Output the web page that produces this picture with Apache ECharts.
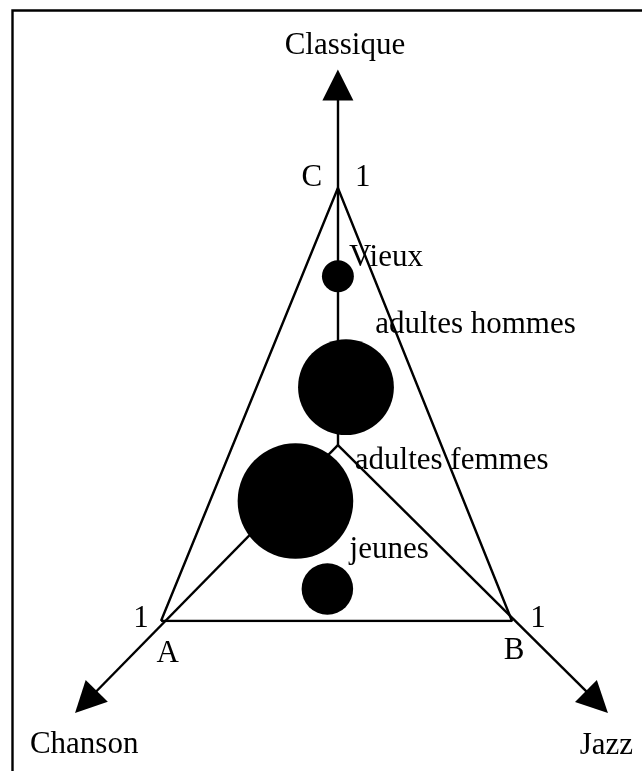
<!DOCTYPE html>
<html>
<head>
<meta charset="utf-8">
<script src="https://cdn.jsdelivr.net/npm/echarts@6/dist/echarts.min.js"></script>
<style>
  html, body { margin: 0; padding: 0; background: #fff; }
  #main { width: 642px; height: 771px; }
</style>
</head>
<body>
<div id="main"></div>
<script>
// triangle A (Chanson) - B (Jazz) - C (Classique), units: base A->B = 100, height to C = 100
const vertexNames = ['A', 'B', 'C'];
const vertexX = [0, 100, 50.4];
const vertexY = [0, 0, 100];
const centerPoint = [50.4, 40.6];

// axes leaving the centre through each vertex
const axisNames = ['Classique', 'Chanson', 'Jazz'];
const axisEndX = [50.4, -21.4, 124.2];
const axisEndY = [123.8, -18.7, -18.7];
const axisTitleX = [52.4, -21.9, 126.9];
const axisTitleY = [132.8, -28.6, -28.9];

// groups
const groups = ['Vieux', 'adultes hommes', 'adultes femmes', 'jeunes'];
const groupX = [50.4, 52.7, 38.3, 47.4];
const groupY = [79.6, 54.0, 27.7, 7.4];
const groupWeight = [10, 90, 131, 26];
const groupLabelX = [64.1, 89.6, 82.8, 65.0];
const groupLabelY = [83.8, 68.4, 36.9, 16.4];

// vertex letters and the "1" marks
const markNames = ['C', '1', '1', 'A', '1', 'B'];
const markX = [43.0, 57.5, -5.7, 1.9, 107.4, 100.6];
const markY = [102.3, 102.3, 0.5, -7.6, 0.5, -6.9];

const font = '"Liberation Serif", "Times New Roman", serif';

const textData = [];
axisNames.forEach((n, i) => textData.push({ name: n, value: [axisTitleX[i], axisTitleY[i]] }));
groups.forEach((n, i) => textData.push({ name: n, value: [groupLabelX[i], groupLabelY[i]] }));
markNames.forEach((n, i) => textData.push({ name: n, value: [markX[i], markY[i]] }));

const triangle = [0, 1, 2, 0].map(i => [vertexX[i], vertexY[i]]);

const option = {
  animation: false,
  backgroundColor: '#fff',
  graphic: [{
    type: 'rect',
    left: 10, top: 8,
    shape: { width: 700, height: 800 },
    style: { fill: 'none', stroke: '#000', lineWidth: 2.4 },
    silent: true
  }],
  grid: { left: 161, top: 188, width: 351, height: 433 },
  xAxis: { type: 'value', min: 0, max: 100, show: false },
  yAxis: { type: 'value', min: 0, max: 100, show: false },
  series: [
    {
      type: 'line',
      data: triangle,
      symbol: 'none',
      lineStyle: { color: '#000', width: 2.4 },
      silent: true,
      z: 2
    },
    {
      type: 'lines',
      coordinateSystem: 'cartesian2d',
      clip: false,
      silent: true,
      symbol: ['none', 'triangle'],
      symbolSize: [23, 31],
      lineStyle: { color: '#000', width: 2.4, opacity: 1 },
      itemStyle: { color: '#000' },
      data: axisNames.map((n, i) => ({
        coords: [centerPoint, [axisEndX[i], axisEndY[i]]]
      })),
      z: 2
    },
    {
      type: 'scatter',
      clip: false,
      silent: true,
      data: groups.map((n, i) => ({ name: n, value: [groupX[i], groupY[i], groupWeight[i]] })),
      symbolSize: v => 10.1 * Math.sqrt(v[2]),
      itemStyle: { color: '#000', opacity: 1 },
      z: 3
    },
    {
      type: 'scatter',
      clip: false,
      silent: true,
      data: textData,
      symbolSize: 0,
      label: {
        show: true,
        position: 'inside',
        formatter: '{b}',
        color: '#000',
        opacity: 1,
        textBorderWidth: 0,
        fontFamily: font,
        fontSize: 31
      },
      z: 4
    }
  ]
};

const chart = echarts.init(document.getElementById('main'), null, { renderer: 'canvas' });
chart.setOption(option);
</script>
</body>
</html>
